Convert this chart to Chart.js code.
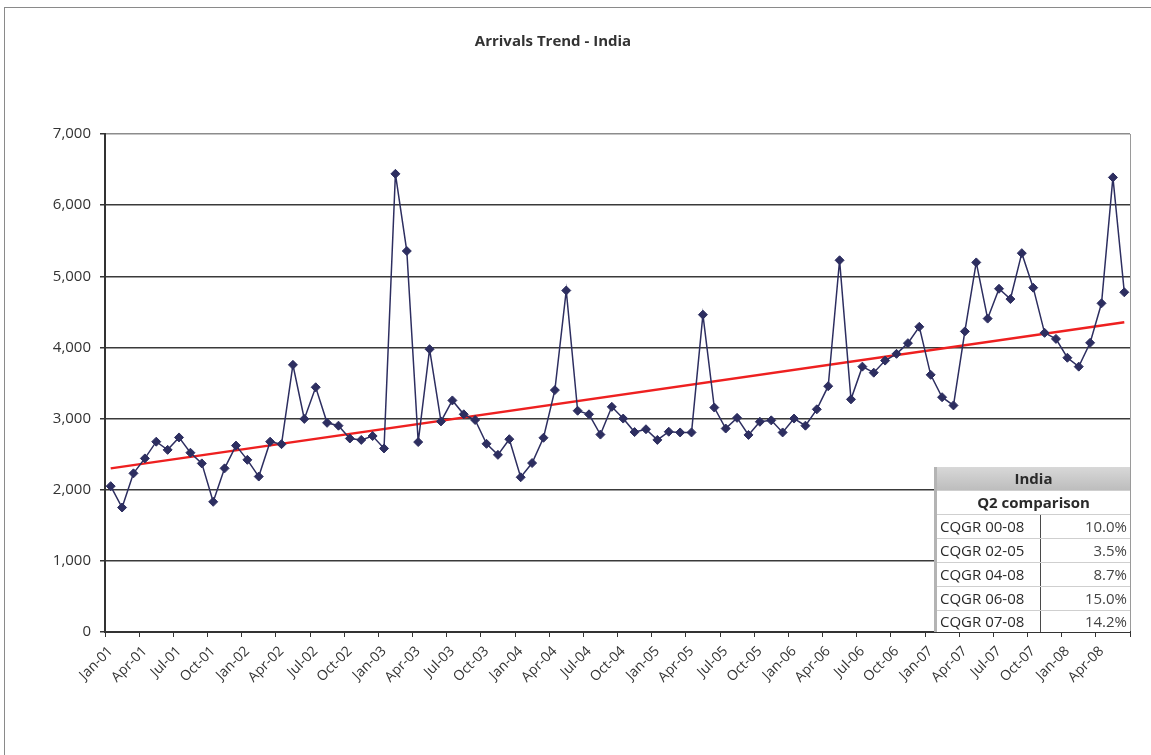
<!DOCTYPE html>
<html>
<head>
<meta charset="utf-8">
<title>Arrivals Trend - India</title>
<script src="https://cdn.jsdelivr.net/npm/chart.js@4/dist/chart.umd.min.js"></script>
<style>
  html, body { margin: 0; padding: 0; background: #fff; }
  #wrap { position: relative; width: 1151px; height: 755px; overflow: hidden; }
  #frame { position: absolute; left: 4px; top: 7px; width: 1200px; height: 800px;
           border-left: 1px solid #8a8a8a; border-top: 1px solid #8a8a8a; }
  #chart { position: absolute; left: 0; top: 0; }
  #stats { position: absolute; left: 937px; top: 467px; width: 193px;
           border-collapse: collapse; table-layout: fixed; background: #fff;
           font: 15px 'Open Sans', sans-serif; color: #2a2a2a;
           box-shadow: -3px 0 0 #b4b4b4; }
  #stats td { padding: 0 3px; height: 23px; line-height: 23px; border-bottom: 1px solid #cfcfcf;
              white-space: nowrap; overflow: hidden; }
  #stats td.head { text-align: center; font-weight: bold; }
  #stats tr.country td { background: linear-gradient(#d8d8d8, #bdbdbd); }
  #stats td.val { text-align: right; border-left: 1px solid #4a4a4a; color: #444; }
  #stats tr:last-child td { height: 21px; line-height: 21px; border-bottom: none; }
</style>
</head>
<body>
<div id="wrap">
  <div id="frame"></div>
  <canvas id="chart" width="1151" height="755"></canvas>
  <table id="stats"></table>
</div>
<script>
// Monthly arrivals, Jan 2001 - Jun 2008
const years = ['01', '02', '03', '04', '05', '06', '07', '08'];
const monthNames = ['Jan', 'Feb', 'Mar', 'Apr', 'May', 'Jun', 'Jul', 'Aug', 'Sep', 'Oct', 'Nov', 'Dec'];

const arrivals2001 = [2050, 1750, 2230, 2440, 2675, 2560, 2735, 2520, 2370, 1830, 2300, 2620];
const arrivals2002 = [2420, 2185, 2675, 2640, 3755, 2995, 3440, 2940, 2900, 2720, 2700, 2755];
const arrivals2003 = [2580, 6440, 5355, 2670, 3975, 2960, 3255, 3060, 2980, 2645, 2490, 2710];
const arrivals2004 = [2175, 2375, 2730, 3400, 4800, 3110, 3060, 2775, 3165, 3000, 2810, 2850];
const arrivals2005 = [2700, 2815, 2805, 2805, 4460, 3155, 2860, 3010, 2770, 2955, 2975, 2805];
const arrivals2006 = [3000, 2900, 3130, 3455, 5225, 3270, 3730, 3645, 3815, 3910, 4060, 4290];
const arrivals2007 = [3615, 3300, 3185, 4225, 5195, 4405, 4825, 4680, 5325, 4840, 4205, 4120];
const arrivals2008 = [3855, 3730, 4065, 4620, 6390, 4775];

// Linear trend: value at the first and last month
const trendStart = 2300;
const trendEnd = 4355;

// Y axis range and step
const yMin = 0, yMax = 7000, yStep = 1000;
// one x label every quarter
const labelEvery = 3;

// Q2 comparison table
const tableTitle = 'India';
const tableSubtitle = 'Q2 comparison';
const cqgrPeriods = ['CQGR 00-08', 'CQGR 02-05', 'CQGR 04-08', 'CQGR 06-08', 'CQGR 07-08'];
const cqgrValues = ['10.0%', '3.5%', '8.7%', '15.0%', '14.2%'];

const arrivals = [].concat(arrivals2001, arrivals2002, arrivals2003, arrivals2004,
                           arrivals2005, arrivals2006, arrivals2007, arrivals2008);
const categories = [];
years.forEach(y => monthNames.forEach(m => categories.push(m + '-' + y)));
categories.length = arrivals.length;

const FONT = "'Open Sans', sans-serif";
const INK = '#333333';

// chart title drawn on the canvas
const titlePlugin = {
  id: 'chartHeading',
  afterDraw(chart) {
    const c = chart.ctx;
    c.save();
    c.font = 'bold 15px ' + FONT;
    c.fillStyle = INK;
    c.textAlign = 'center';
    c.textBaseline = 'middle';
    c.fillText('Arrivals Trend - India', 553, 42);
    c.restore();
  }
};

const lastIndex = categories.length;

new Chart(document.getElementById('chart'), {
  type: 'line',
  data: {
    labels: categories,
    datasets: [
      {
        label: 'India',
        data: arrivals,
        borderColor: '#2d2e60',
        backgroundColor: '#2d2e60',
        borderWidth: 1.5,
        pointStyle: 'rectRot',
        pointRadius: 4.5,
        pointBorderWidth: 1,
        tension: 0
      },
      {
        label: 'Trend',
        data: [
          { x: categories[0], y: trendStart },
          { x: categories[categories.length - 1], y: trendEnd }
        ],
        borderColor: '#ee2020',
        borderWidth: 2.5,
        pointRadius: 0,
        tension: 0
      }
    ]
  },
  options: {
    responsive: false,
    animation: false,
    devicePixelRatio: 1,
    layout: { padding: { top: 134, right: 21, bottom: 0, left: 0 }, autoPadding: false },
    plugins: {
      legend: { display: false },
      tooltip: { enabled: false },
      title: { display: false }
    },
    scales: {
      x: {
        type: 'category',
        offset: true,
        afterFit(scale) { scale.height = 123; },
        border: { display: true, color: INK, width: 2 },
        grid: {
          offset: true,
          drawOnChartArea: true,
          tickLength: 5,
          color(ctx) {
            const i = ctx.index === undefined ? lastIndex : ctx.index;
            return i === lastIndex ? '#9a9a9a' : 'rgba(0,0,0,0)';
          },
          tickColor(ctx) {
            const i = ctx.index === undefined ? lastIndex : ctx.index;
            return i % labelEvery === 0 ? INK : 'rgba(0,0,0,0)';
          }
        },
        ticks: {
          autoSkip: false,
          minRotation: 45,
          maxRotation: 45,
          padding: 6,
          color: INK,
          font: { family: FONT, size: 14 },
          callback(value, index) {
            return index % labelEvery === 0 ? this.getLabelForValue(value) : '';
          }
        }
      },
      y: {
        min: yMin,
        max: yMax,
        afterFit(scale) { scale.width = 105; },
        border: { display: true, color: INK, width: 2 },
        grid: {
          tickLength: 5,
          tickColor: INK,
          lineWidth: 1.5,
          color(ctx) {
            return ctx.tick && ctx.tick.value === yMax ? '#8c8c8c' : '#3a3a3a';
          }
        },
        ticks: {
          stepSize: yStep,
          padding: 9,
          color: INK,
          font: { family: FONT, size: 15 }
        }
      }
    }
  },
  plugins: [titlePlugin]
});

// comparison table
const table = document.getElementById('stats');
const addRow = (cls, cells) => {
  const tr = document.createElement('tr');
  if (cls) tr.className = cls;
  cells.forEach(([text, tdCls, span]) => {
    const td = document.createElement('td');
    td.textContent = text;
    if (tdCls) td.className = tdCls;
    if (span) td.colSpan = span;
    tr.appendChild(td);
  });
  table.appendChild(tr);
};
const colgroup = document.createElement('colgroup');
colgroup.innerHTML = '<col style="width:103px"><col style="width:90px">';
table.appendChild(colgroup);
addRow('country', [[tableTitle, 'head', 2]]);
addRow('', [[tableSubtitle, 'head', 2]]);
cqgrPeriods.forEach((p, i) => addRow('', [[p, ''], [cqgrValues[i], 'val']]));
</script>
</body>
</html>
